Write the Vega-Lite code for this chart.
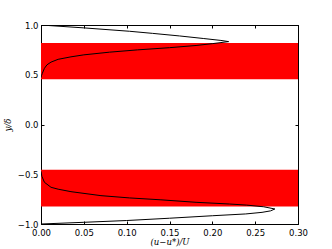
{
  "$schema": "https://vega.github.io/schema/vega-lite/v6.json",
  "width": 257,
  "height": 199,
  "autosize": {"type": "none"},
  "padding": {"left": 41, "top": 25, "right": 34, "bottom": 25},
  "background": "white",
  "config": {
    "view": {"stroke": "black", "strokeWidth": 1},
    "axis": {
      "labelFont": "DejaVu Sans",
      "labelFontSize": 8.5,
      "labelColor": "black",
      "labelFlush": false,
      "domainColor": "black",
      "tickColor": "black",
      "tickSize": -3,
      "labelPadding": 6,
      "grid": false,
      "titleFont": "DejaVu Serif",
      "titleFontStyle": "italic",
      "titleFontWeight": "normal",
      "titleFontSize": 8.5,
      "titleColor": "black"
    }
  },
  "datasets": {
    "bands": [
      {"x0": 0, "x1": 0.3, "ylo": 0.455, "yhi": 0.82},
      {"x0": 0, "x1": 0.3, "ylo": -0.825, "yhi": -0.455}
    ],
    "curve": [
      {"s": "top", "i": 0, "x": 0, "y": 1.0},
      {"s": "top", "i": 1, "x": 0.05, "y": 0.971},
      {"s": "top", "i": 2, "x": 0.1034, "y": 0.937},
      {"s": "top", "i": 3, "x": 0.13, "y": 0.916},
      {"s": "top", "i": 4, "x": 0.1617, "y": 0.89},
      {"s": "top", "i": 5, "x": 0.19, "y": 0.864},
      {"s": "top", "i": 6, "x": 0.21, "y": 0.845},
      {"s": "top", "i": 7, "x": 0.219, "y": 0.833},
      {"s": "top", "i": 8, "x": 0.2005, "y": 0.813},
      {"s": "top", "i": 9, "x": 0.181, "y": 0.794},
      {"s": "top", "i": 10, "x": 0.15, "y": 0.772},
      {"s": "top", "i": 11, "x": 0.1127, "y": 0.75},
      {"s": "top", "i": 12, "x": 0.08, "y": 0.727},
      {"s": "top", "i": 13, "x": 0.05, "y": 0.7},
      {"s": "top", "i": 14, "x": 0.035, "y": 0.68},
      {"s": "top", "i": 15, "x": 0.02, "y": 0.655},
      {"s": "top", "i": 16, "x": 0.0117, "y": 0.627},
      {"s": "top", "i": 17, "x": 0.007, "y": 0.6},
      {"s": "top", "i": 18, "x": 0.004, "y": 0.565},
      {"s": "top", "i": 19, "x": 0.0016, "y": 0.515},
      {"s": "top", "i": 20, "x": 0.0005, "y": 0.49},
      {"s": "top", "i": 21, "x": 0, "y": 0.47},
      {"s": "bot", "i": 0, "x": 0, "y": -1.0},
      {"s": "bot", "i": 1, "x": 0.05, "y": -0.983},
      {"s": "bot", "i": 2, "x": 0.1, "y": -0.965},
      {"s": "bot", "i": 3, "x": 0.15, "y": -0.942},
      {"s": "bot", "i": 4, "x": 0.2, "y": -0.917},
      {"s": "bot", "i": 5, "x": 0.239, "y": -0.899},
      {"s": "bot", "i": 6, "x": 0.258, "y": -0.883},
      {"s": "bot", "i": 7, "x": 0.268, "y": -0.868},
      {"s": "bot", "i": 8, "x": 0.273, "y": -0.849},
      {"s": "bot", "i": 9, "x": 0.26, "y": -0.827},
      {"s": "bot", "i": 10, "x": 0.24, "y": -0.81},
      {"s": "bot", "i": 11, "x": 0.22, "y": -0.799},
      {"s": "bot", "i": 12, "x": 0.181, "y": -0.782},
      {"s": "bot", "i": 13, "x": 0.14, "y": -0.757},
      {"s": "bot", "i": 14, "x": 0.1034, "y": -0.738},
      {"s": "bot", "i": 15, "x": 0.07, "y": -0.715},
      {"s": "bot", "i": 16, "x": 0.035, "y": -0.675},
      {"s": "bot", "i": 17, "x": 0.02, "y": -0.65},
      {"s": "bot", "i": 18, "x": 0.0117, "y": -0.631},
      {"s": "bot", "i": 19, "x": 0.004, "y": -0.581},
      {"s": "bot", "i": 20, "x": 0.001, "y": -0.52},
      {"s": "bot", "i": 21, "x": 0, "y": -0.47}
    ]
  },
  "layer": [
    {
      "data": {"name": "bands"},
      "mark": {"type": "rect", "color": "#ff0000"},
      "encoding": {
        "x": {"field": "x0", "type": "quantitative",
              "scale": {"domain": [0, 0.3], "nice": false, "zero": false},
              "axis": {"orient": "bottom", "values": [0, 0.05, 0.1, 0.15, 0.2, 0.25, 0.3], "format": ".2f", "title": "(u−u*)/U", "titlePadding": 1, "labelPadding": 7}},
        "x2": {"field": "x1"},
        "y": {"field": "ylo", "type": "quantitative",
              "scale": {"domain": [-1, 1], "nice": false, "zero": false},
              "axis": {"orient": "left", "values": [-1, -0.5, 0, 0.5, 1], "format": ".1f", "title": "y/δ", "titlePadding": 5}},
        "y2": {"field": "yhi"}
      }
    },
    {
      "data": {"name": "curve"},
      "mark": {"type": "line", "color": "black", "strokeWidth": 1, "clip": true},
      "encoding": {
        "x": {"field": "x", "type": "quantitative",
              "axis": {"orient": "top", "values": [0, 0.05, 0.1, 0.15, 0.2, 0.25, 0.3], "labels": false, "title": null}},
        "y": {"field": "y", "type": "quantitative",
              "axis": {"orient": "right", "values": [-1, -0.5, 0, 0.5, 1], "labels": false, "title": null}},
        "detail": {"field": "s"},
        "order": {"field": "i", "type": "quantitative"}
      }
    }
  ],
  "resolve": {"axis": {"x": "independent", "y": "independent"}}
}
